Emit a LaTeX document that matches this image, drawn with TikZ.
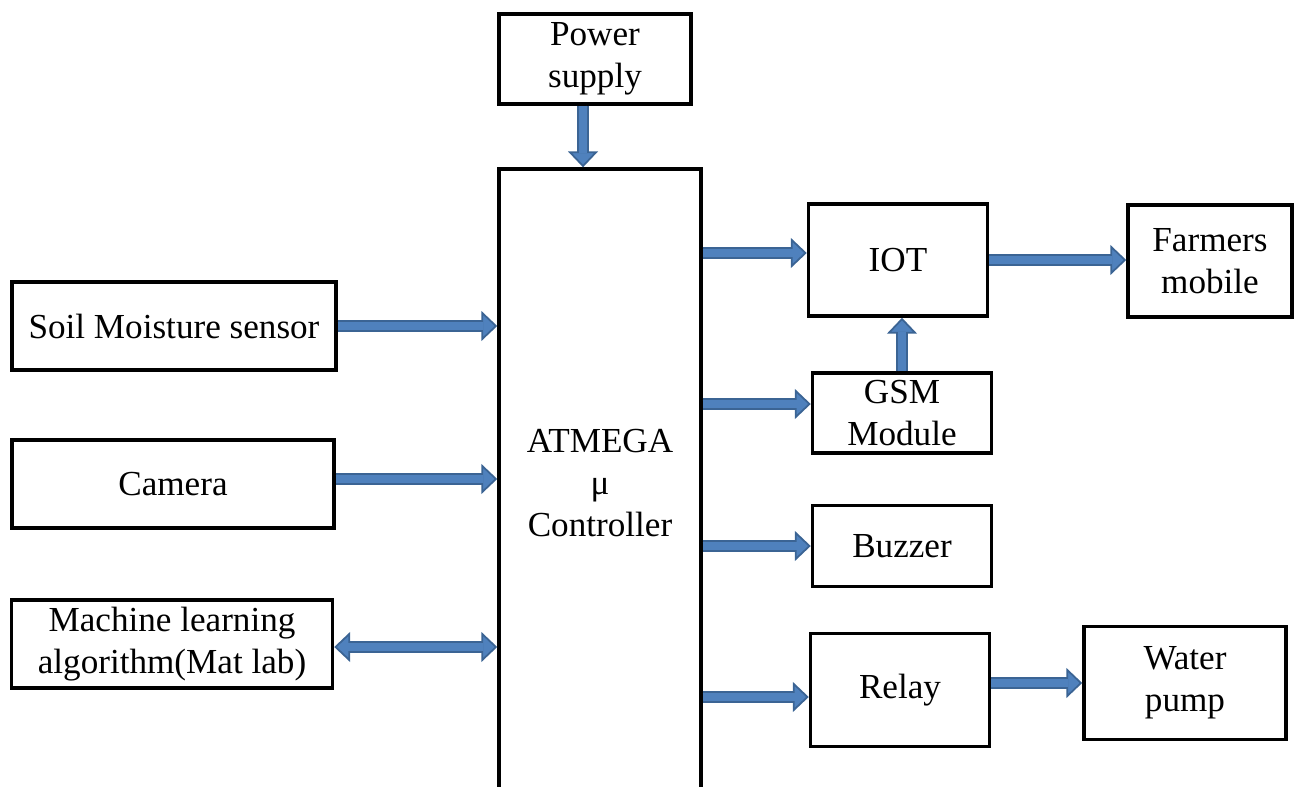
\documentclass[tikz,border=0pt]{standalone}
\usepackage{fontspec}
\setmainfont{Liberation Serif}
\usetikzlibrary{arrows.meta}
\definecolor{arrowblue}{HTML}{4F81BD}
\definecolor{arrowedge}{HTML}{3B6494}

\begin{document}
\begin{tikzpicture}[x=0.02cm,y=-0.02cm]
    \pgfmathsetmacro{\boxline}{2}
    \pgfmathsetmacro{\shaftwidth}{0.24}
    \pgfmathsetmacro{\headlength}{0.32}
    \pgfmathsetmacro{\headwidth}{0.6}
    \providecommand{\boxfontsize}{\fontsize{20}{24}\selectfont}
    \tikzset{
        block/.style={draw,line width=\boxline pt,align=center,inner sep=0,font=\boxfontsize},
        fathead/.tip={Triangle[length=\headlength cm,width=\headwidth cm,line width=1pt,fill=arrowblue]},
        fatarrow/.style={draw=arrowedge,line width=\shaftwidth cm,-fathead,
            postaction={draw=arrowblue,line width=\shaftwidth cm-2pt,-,shorten >=\headlength cm-1pt}},
        fatboth/.style={draw=arrowedge,line width=\shaftwidth cm,fathead-fathead,
            postaction={draw=arrowblue,line width=\shaftwidth cm-2pt,-,shorten >=\headlength cm-1pt,shorten <=\headlength cm-1pt}}
    }
    \clip (0,0) rectangle (1295,787);
    % blocks
    \node[block,minimum width=3.84cm,minimum height=1.8cm] (power) at (595,59) {Power\\supply};
    \node[block,minimum width=4.04cm,minimum height=12.56cm] (ctrl) at (600,483) {ATMEGA\\μ\\Controller};
    \node[block,minimum width=6.48cm,minimum height=1.76cm] (soil) at (174,326) {Soil Moisture sensor};
    \node[block,minimum width=6.44cm,minimum height=1.76cm] (camera) at (173,484) {Camera};
    \node[block,minimum width=6.42cm,minimum height=1.76cm] (ml) at (172,644) {Machine learning\\algorithm(Mat lab)};
    \node[block,minimum width=3.58cm,minimum height=2.24cm] (iot) at (898,260) {IOT};
    \node[block,minimum width=3.58cm,minimum height=1.6cm] (gsm) at (902,413) {GSM\\Module};
    \node[block,minimum width=3.58cm,minimum height=1.62cm] (buzzer) at (902,546) {Buzzer};
    \node[block,minimum width=3.58cm,minimum height=2.26cm] (relay) at (900,690) {Relay};
    \node[block,minimum width=3.28cm,minimum height=2.24cm] (farmers) at (1210,261) {Farmers\\mobile};
    \node[block,minimum width=4.04cm,minimum height=2.26cm] (pump) at (1185,683) {Water\\pump};
    % block arrows
    \draw[fatarrow] ([xshift=-0.24cm]power.south) -- ([xshift=-0.24cm]power.south |- ctrl.north);
    \draw[fatarrow] (soil.east) -- (soil.east -| ctrl.west);
    \draw[fatarrow] ([yshift=0.1cm]camera.east) -- ([yshift=0.1cm]camera.east -| ctrl.west);
    \draw[fatboth] ([yshift=-0.06cm]ml.east) -- ([yshift=-0.06cm]ml.east -| ctrl.west);
    \draw[fatarrow] ([yshift=0.14cm]iot.west -| ctrl.east) -- ([yshift=0.14cm]iot.west);
    \draw[fatarrow] ([yshift=0.18cm]gsm.west -| ctrl.east) -- ([yshift=0.18cm]gsm.west);
    \draw[fatarrow] (buzzer.west -| ctrl.east) -- (buzzer.west);
    \draw[fatarrow] ([yshift=-0.14cm]relay.west -| ctrl.east) -- ([yshift=-0.14cm]relay.west);
    \draw[fatarrow] (gsm.north) -- (gsm.north |- iot.south);
    \draw[fatarrow] (iot.east) -- (iot.east -| farmers.west);
    \draw[fatarrow] (pump.west -| relay.east) -- (pump.west);
\end{tikzpicture}
\end{document}
